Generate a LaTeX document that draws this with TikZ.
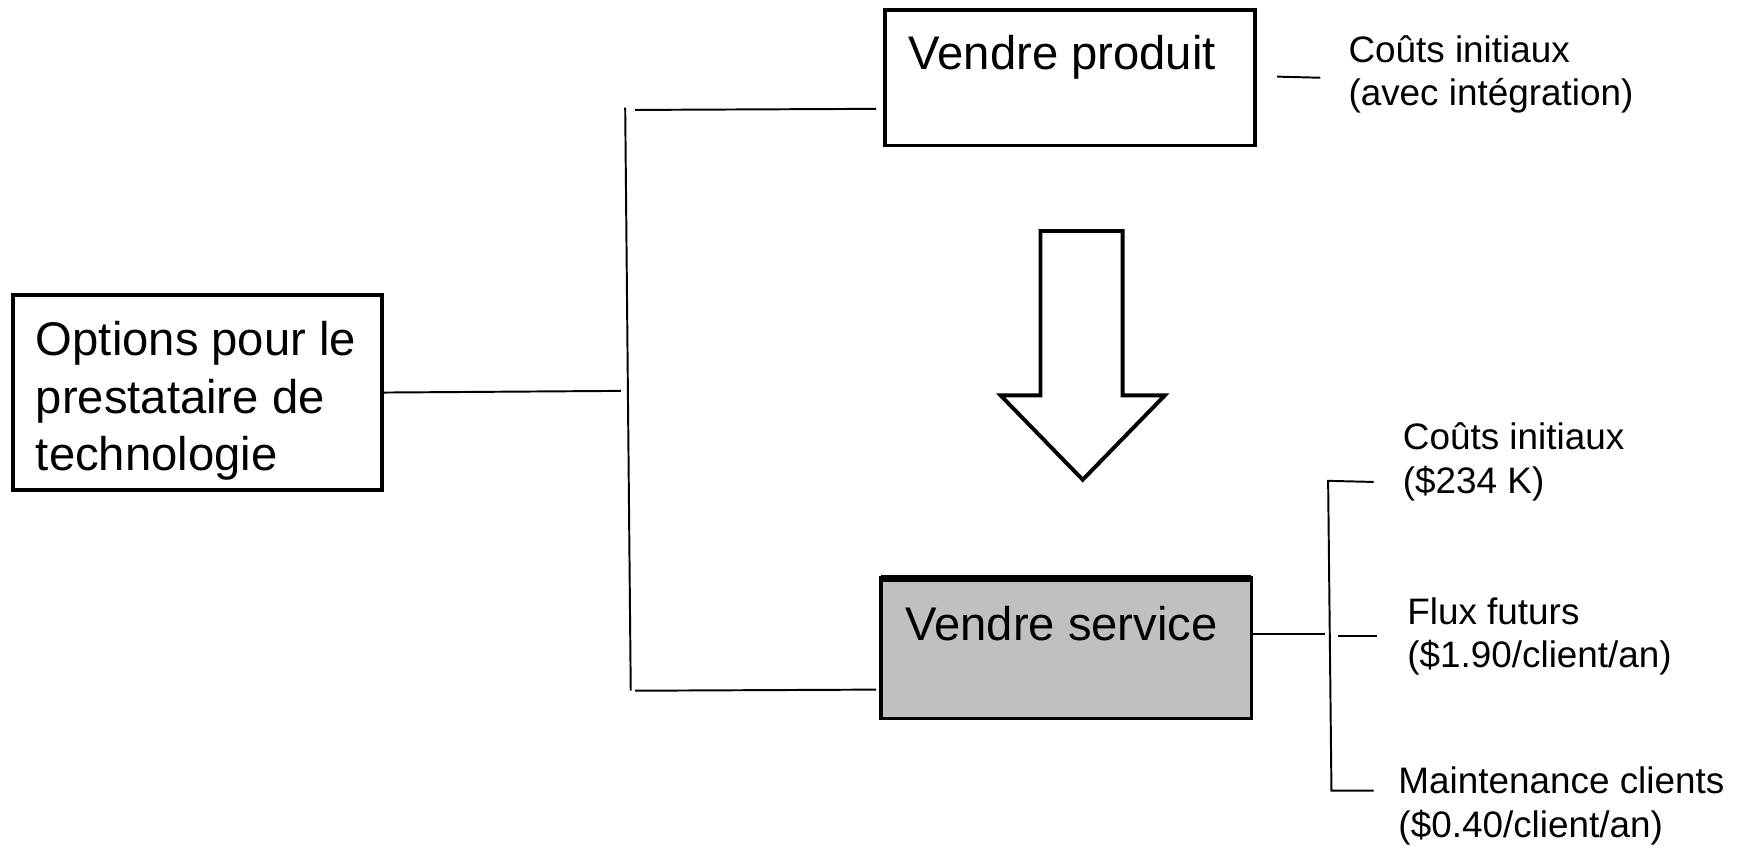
\documentclass[tikz,border=0pt]{standalone}
\usepackage{fontspec}
\setmainfont{Liberation Sans}
\definecolor{boxgray}{HTML}{C0C0C0}
\begin{document}
\begin{tikzpicture}[x=0.02cm,y=-0.02cm,
  box/.style={draw, line width=2pt, inner sep=0pt, outer sep=0pt},
  big/.style={font=\fontsize{24.2pt}{29.6pt}\selectfont, anchor=base west, align=left, inner sep=0pt},
  small/.style={font=\fontsize{18.9pt}{22.2pt}\selectfont, anchor=base west, align=left, inner sep=0pt},
  thin/.style={line width=1pt},
  blockarrow/.style={draw, line width=2pt, fill=white, line join=miter}]
\useasboundingbox (0,0) rectangle (1566,761);

% boxes
\node[box, minimum width=6.64cm, minimum height=3.5cm] (opt) at (178,353.5) {};
\node[box, minimum width=6.66cm, minimum height=2.44cm] (prod) at (963.5,70) {};
\node[box, fill=boxgray, minimum width=6.68cm, minimum height=2.54cm] (serv) at (960,583.5) {};
\draw[line width=3.5pt] ([yshift=-0.5pt]serv.north west) -- ([yshift=-0.5pt]serv.north east);

% texts (anchor = baseline of the last line)
\node[big] (optT) at (32,424) {Options pour le\\prestataire de\\technologie};
\node[big] (prodT) at (818,63) {Vendre produit};
\node[big] (servT) at (815,577) {Vendre service};
\node[small] (c1) at (1214,95) {Coûts initiaux\\(avec intégration)};
\node[small] (c2) at (1263,444) {Coûts initiaux\\(\$234 K)};
\node[small] (c3) at (1267,601) {Flux futurs\\(\$1.90/client/an)};
\node[small] (c4) at (1259,754) {Maintenance clients\\(\$0.40/client/an)};

% left tree
\coordinate (vt) at (563,97);
\coordinate (vb) at (568,622);
\coordinate (hm) at (559,352);
\coordinate (ht) at (572,99);
\coordinate (hte) at (789,98);
\coordinate (hb) at (572,622);
\coordinate (hbe) at (789,621);
\draw[thin] (vt) -- (vb);
\draw[thin] (opt.east) -- (hm);
\draw[thin] (ht) -- (hte);
\draw[thin] (hb) -- (hbe);

% product dash
\coordinate (pd1) at (1150,69);
\coordinate (pd2) at (1189,70);
\draw[thin] (pd1) -- (pd2);

% service bracket
\coordinate (sl) at (1193,571);
\draw[thin] (serv.east |- sl) -- (sl);
\coordinate (bt) at (1196,433);
\coordinate (bb) at (1199,712);
\coordinate (btE) at (1237,434);
\coordinate (bbE) at (1237,712);
\draw[thin] (btE) -- (bt) -- (bb) -- (bbE);
\coordinate (bm1) at (1205,573);
\coordinate (bm2) at (1240,573);
\draw[thin] (bm1) -- (bm2);

% block arrow
\draw[blockarrow] (937,208) -- (1011,208) -- (1011,356) -- (1049,356) -- (975,432) -- (901,356) -- (937,356) -- cycle;
\end{tikzpicture}
\end{document}
